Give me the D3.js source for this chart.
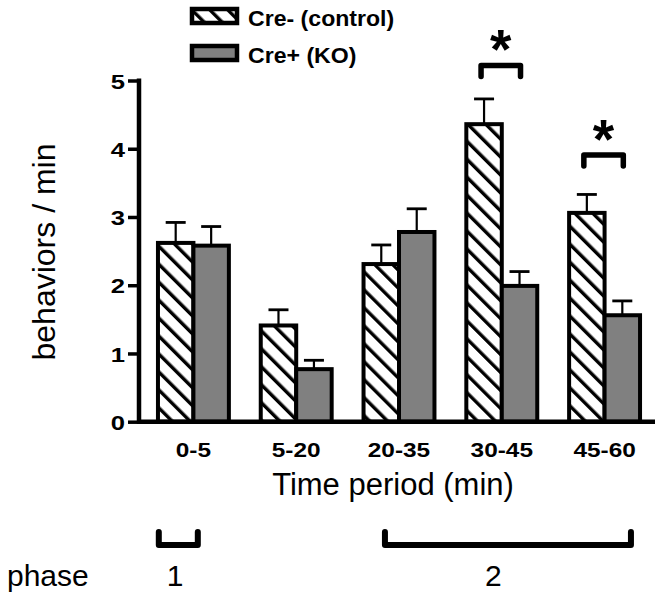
<!DOCTYPE html>
<html>
<head>
<meta charset="utf-8">
<script src="https://cdn.jsdelivr.net/npm/d3@7"></script>
<style>
  html, body { margin: 0; padding: 0; background: #fff; }
  svg { display: block; }
  text { font-family: Arial, "Liberation Sans", sans-serif; fill: #000; }
</style>
</head>
<body>
<div id="chart"></div>
<script>
// ---- data ----
const categories = ["0-5", "5-20", "20-35", "30-45", "45-60"];
const seriesNames = ["Cre- (control)", "Cre+ (KO)"];
const controlMeans = [2.62, 1.41, 2.31, 4.36, 3.06];
const controlErr   = [0.30, 0.23, 0.28, 0.37, 0.27];
const koMeans      = [2.58, 0.77, 2.78, 1.99, 1.56];
const koErr        = [0.28, 0.13, 0.34, 0.21, 0.21];
const yTicks = [0, 1, 2, 3, 4, 5];
const sigCategories = ["30-45", "45-60"];
const sigLevels = [5.22, 3.91];
const phaseLabels = ["1", "2"];
const phaseFrom = ["0-5", "20-35"];
const phaseTo = ["0-5", "45-60"];
const phaseLabelAt = ["0-5", "30-45"];

// ---- layout ----
const W = 664, H = 600;
const svg = d3.select("#chart").append("svg").attr("width", W).attr("height", H);

const x = d3.scaleBand().domain(categories).range([139, 655]).paddingInner(0.31).paddingOuter(0.165);
const xs = d3.scaleBand().domain(seriesNames).range([0, x.bandwidth()]);
const y = d3.scaleLinear().domain([0, 5]).range([421.7, 80.5]);

const defs = svg.append("defs");
const pat = defs.append("pattern").attr("id", "hatch")
  .attr("patternUnits", "userSpaceOnUse")
  .attr("width", 12.7).attr("height", 12.7)
  .attr("patternTransform", "rotate(-45)");
pat.append("rect").attr("width", 12.7).attr("height", 12.7).attr("fill", "#fff");
pat.append("rect").attr("x", 0).attr("width", 3.4).attr("height", 12.7).attr("fill", "#000");

const fills = ["url(#hatch)", "#808080"];

const rows = categories.map((c, i) => ({
  cat: c,
  vals: [
    { s: seriesNames[0], v: controlMeans[i], e: controlErr[i], f: fills[0] },
    { s: seriesNames[1], v: koMeans[i], e: koErr[i], f: fills[1] }
  ]
}));

// error bars (drawn first, bars over them)
const g = svg.append("g");
rows.forEach(r => {
  r.vals.forEach(d => {
    const cx = x(r.cat) + xs(d.s) + xs.bandwidth() / 2 + 2;
    g.append("line").attr("x1", cx).attr("x2", cx)
      .attr("y1", y(d.v)).attr("y2", y(d.v + d.e))
      .attr("stroke", "#000").attr("stroke-width", 2.2);
    g.append("line").attr("x1", cx - 10).attr("x2", cx + 10)
      .attr("y1", y(d.v + d.e)).attr("y2", y(d.v + d.e))
      .attr("stroke", "#000").attr("stroke-width", 2.8);
  });
});

// bars
rows.forEach(r => {
  r.vals.forEach(d => {
    g.append("rect")
      .attr("x", x(r.cat) + xs(d.s) + 2)
      .attr("width", xs.bandwidth())
      .attr("y", y(d.v))
      .attr("height", y(0) - y(d.v))
      .attr("fill", d.f)
      .attr("stroke", "#000").attr("stroke-width", 4);
  });
});

// y axis
const yAxis = svg.append("g").attr("transform", "translate(139,0)")
  .call(d3.axisLeft(y).tickValues(yTicks).tickFormat(d3.format("d")).tickSize(11).tickPadding(0));
yAxis.select(".domain").remove();
yAxis.selectAll(".tick line").attr("stroke", "#000").attr("stroke-width", 3.5);
yAxis.selectAll(".tick text")
  .attr("x", -14 / 1.22).attr("dy", "0.36em")
  .attr("transform", "scale(1.22,1)")
  .style("font-size", "21px").style("font-weight", "bold");
svg.append("line").attr("x1", 139).attr("x2", 139).attr("y1", y(5) - 2).attr("y2", y(0) + 2)
  .attr("stroke", "#000").attr("stroke-width", 4.5);

// x axis
const xAxis = svg.append("g").attr("transform", `translate(0,${y(0)})`)
  .call(d3.axisBottom(x).tickSize(0).tickPadding(0));
xAxis.select(".domain").remove();
xAxis.selectAll(".tick text")
  .attr("y", 0).attr("dy", 0)
  .attr("transform", "translate(2,35.5) scale(1.22,1)")
  .style("font-size", "20px").style("font-weight", "bold");
svg.append("line").attr("x1", 137).attr("x2", 655).attr("y1", y(0)).attr("y2", y(0))
  .attr("stroke", "#000").attr("stroke-width", 4.5);

// axis titles
svg.append("text").attr("x", 393).attr("y", 495).attr("text-anchor", "middle")
  .style("font-size", "31px").text("Time period (min)");
svg.append("text").attr("transform", "translate(55,252) rotate(-90)").attr("text-anchor", "middle")
  .style("font-size", "32px").text("behaviors / min");

// significance brackets
sigCategories.forEach((c, i) => {
  const x1 = x(c) + xs(seriesNames[0]) + xs.bandwidth() / 2 - 1;
  const x2 = x(c) + xs(seriesNames[1]) + xs.bandwidth() / 2 + 3;
  const yt = y(sigLevels[i]);
  svg.append("path")
    .attr("d", `M${x1},${yt + 11}L${x1},${yt}L${x2},${yt}L${x2},${yt + 11}`)
    .attr("fill", "none").attr("stroke", "#000").attr("stroke-width", 5.5)
    .attr("stroke-linecap", "round").attr("stroke-linejoin", "round");
  svg.append("text").attr("x", (x1 + x2) / 2).attr("y", yt + 3).attr("text-anchor", "middle")
    .style("font-size", "55px").style("font-weight", "bold").text("*");
});

// legend
const lg = svg.append("g");
seriesNames.forEach((s, i) => {
  const ly = 9 + i * 37;
  lg.append("rect").attr("x", 192).attr("y", ly).attr("width", 45).attr("height", 14)
    .attr("fill", fills[i]).attr("stroke", "#000").attr("stroke-width", 4.5);
  lg.append("text").attr("transform", `translate(248,${ly + 17}) scale(1.05,1)`)
    .style("font-size", "22px").style("font-weight", "bold").text(s);
});

// phase brackets
const phaseFromF = [0.04, 0.33];
const phaseToF = [0.59, 0.90];
const phaseLabelF = [0.27, 0.41];
svg.append("text").attr("x", 7).attr("y", 586).style("font-size", "30px").text("phase");
phaseLabels.forEach((p, i) => {
  const x1 = x(phaseFrom[i]) + phaseFromF[i] * x.bandwidth();
  const x2 = x(phaseTo[i]) + phaseToF[i] * x.bandwidth();
  svg.append("path")
    .attr("d", `M${x1},${532}L${x1},${545}L${x2},${545}L${x2},${532}`)
    .attr("fill", "none").attr("stroke", "#000").attr("stroke-width", 6)
    .attr("stroke-linecap", "round").attr("stroke-linejoin", "round");
  const lx = x(phaseLabelAt[i]) + phaseLabelF[i] * x.bandwidth();
  svg.append("text").attr("x", lx).attr("y", 586).attr("text-anchor", "middle")
    .style("font-size", "30px").text(p);
});
</script>
</body>
</html>
